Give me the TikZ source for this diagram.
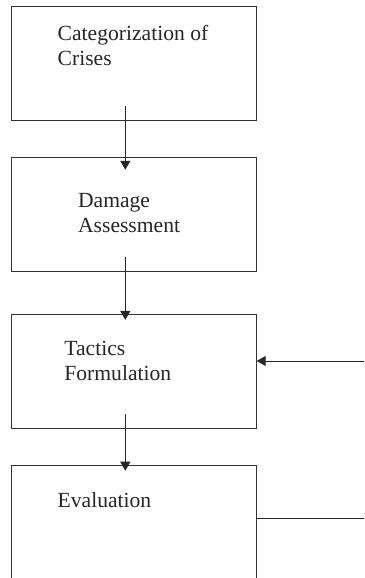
\documentclass[tikz,border=0pt]{standalone}
\usepackage{fontspec}
\setmainfont{Liberation Serif}
\usetikzlibrary{arrows.meta}
\tikzset{
   box/.style={draw=black!80, line width=0.6pt, minimum width=122.4pt, minimum height=57pt, inner sep=0pt},
   lbl/.style={inner sep=0pt, align=left, anchor=base west, text=black!85, font=\fontsize{10.8}{12.5}\selectfont},
   flow/.style={-{Triangle[length=4.5pt, width=5pt]}, line width=0.5pt, black!85},
   feed/.style={line width=0.5pt, black!85},
}
\begin{document}
\begin{tikzpicture}[x=0.5pt, y=-0.5pt]
      \useasboundingbox (0,0) rectangle (364,578);
      \clip (0,0) rectangle (364,578);
      \node[box] (cat) at (133.7, 63.8) {};
      \node[box] (dam) at (133.7, 214.2) {};
      \node[box] (tac) at (133.7, 371.7) {};
      \node[box] (eva) at (133.7, 522.5) {};
      \node[lbl] (cattext) at (57.3, 65.7) {Categorization of\\Crises};
      \node[lbl] (damtext) at (77.7, 232.3) {Damage\\Assessment};
      \node[lbl] (tactext) at (64, 380) {Tactics\\Formulation};
      \node[lbl] (evatext) at (57.3, 507.3) {Evaluation};
      \foreach \a/\b/\d in {cat/dam/6.6, dam/tac/2.9, tac/eva/2.9} {
         \draw[flow] ([xshift=-4.2pt, yshift=7.5pt]\a.south) -- ([xshift=-4.2pt, yshift=-\d pt]\b.north);
      }
      \coordinate (fbin) at (364, 361);
      \coordinate (fbout) at (364, 518);
      \draw[flow] (fbin) -- (tac.east |- fbin);
      \draw[feed] (eva.east |- fbout) -- (fbout);
   \end{tikzpicture}
\end{document}
